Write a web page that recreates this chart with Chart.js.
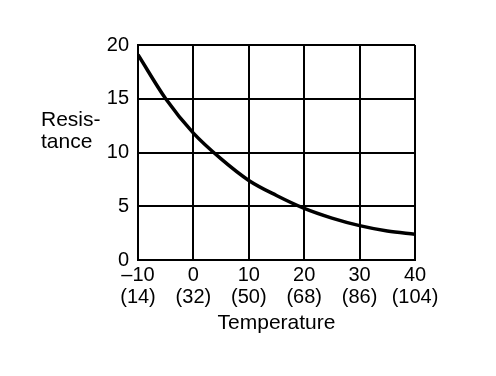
<!DOCTYPE html>
<html>
<head>
<meta charset="utf-8">
<script src="https://cdn.jsdelivr.net/npm/chart.js@4.4.1/dist/chart.umd.min.js"></script>
<style>
  html, body { margin: 0; padding: 0; background: #fff; }
  #wrap { width: 496px; height: 376px; }
</style>
</head>
<body>
<div id="wrap"><canvas id="chart" width="496" height="376"></canvas></div>
<script>
// temperature in C, resistance
const tempC = [-10, -5, 0, 5, 10, 15, 20, 25, 30, 35, 40];
const resistance = [19.1, 15.0, 11.8, 9.4, 7.4, 6.0, 4.8, 3.9, 3.2, 2.7, 2.4];

const xTicksC = [-10, 0, 10, 20, 30, 40];
const xTicksF = ['(14)', '(32)', '(50)', '(68)', '(86)', '(104)'];
const yTicks = [0, 5, 10, 15, 20];

const yTitleLines = ['Resis-', 'tance'];
const xTitle = 'Temperature';

const FONT = 'Liberation Sans, Arial, sans-serif';

// y title is horizontal and sits left of the ticks, chart.js only rotates it, so draw it here
const yTitlePlugin = {
  id: 'yTitle',
  afterDraw(chart) {
    const ctx = chart.ctx;
    ctx.save();
    ctx.font = '21px ' + FONT;
    ctx.fillStyle = '#000';
    ctx.textAlign = 'left';
    ctx.textBaseline = 'alphabetic';
    ctx.fillText(yTitleLines[0], 41, 126);
    ctx.fillText(yTitleLines[1], 41, 148);
    ctx.restore();
  }
};

const ctx = document.getElementById('chart').getContext('2d');
new Chart(ctx, {
  type: 'line',
  data: {
    datasets: [{
      data: tempC.map((t, i) => ({ x: t, y: resistance[i] })),
      borderColor: '#000',
      borderWidth: 3.5,
      pointRadius: 0,
      cubicInterpolationMode: 'monotone',
      fill: false,
    }]
  },
  options: {
    responsive: false,
    animation: false,
    layout: { padding: { top: 45, right: 81, bottom: 40, left: 0 } },
    plugins: {
      legend: { display: false },
      tooltip: { enabled: false },
    },
    scales: {
      x: {
        type: 'linear',
        min: -10,
        max: 40,
        afterBuildTicks: (axis) => { axis.ticks = xTicksC.map(v => ({ value: v })); },
        grid: { color: '#000', lineWidth: 2, drawTicks: false },
        border: { color: '#000', width: 2 },
        ticks: {
          color: '#000',
          padding: 4,
          maxRotation: 0,
          font: { family: FONT, size: 20, lineHeight: 1.1 },
          callback: (v) => {
            const i = xTicksC.indexOf(v);
            const lab = v < 0 ? '\u2013' + Math.abs(v) : String(v);
            return [lab, xTicksF[i]];
          }
        },
        title: {
          display: true,
          text: xTitle,
          color: '#000',
          font: { family: FONT, size: 21 },
          padding: { top: 0, bottom: 0 }
        },
        afterFit: (axis) => { axis.height = 76; }
      },
      y: {
        min: 0,
        max: 20,
        afterBuildTicks: (axis) => { axis.ticks = yTicks.map(v => ({ value: v })); },
        grid: { color: '#000', lineWidth: 2, drawTicks: false },
        border: { color: '#000', width: 2 },
        ticks: {
          color: '#000',
          padding: 9,
          font: { family: FONT, size: 20 },
        },
        afterFit: (axis) => { axis.width = 138; }
      }
    }
  },
  plugins: [yTitlePlugin]
});
</script>
</body>
</html>
